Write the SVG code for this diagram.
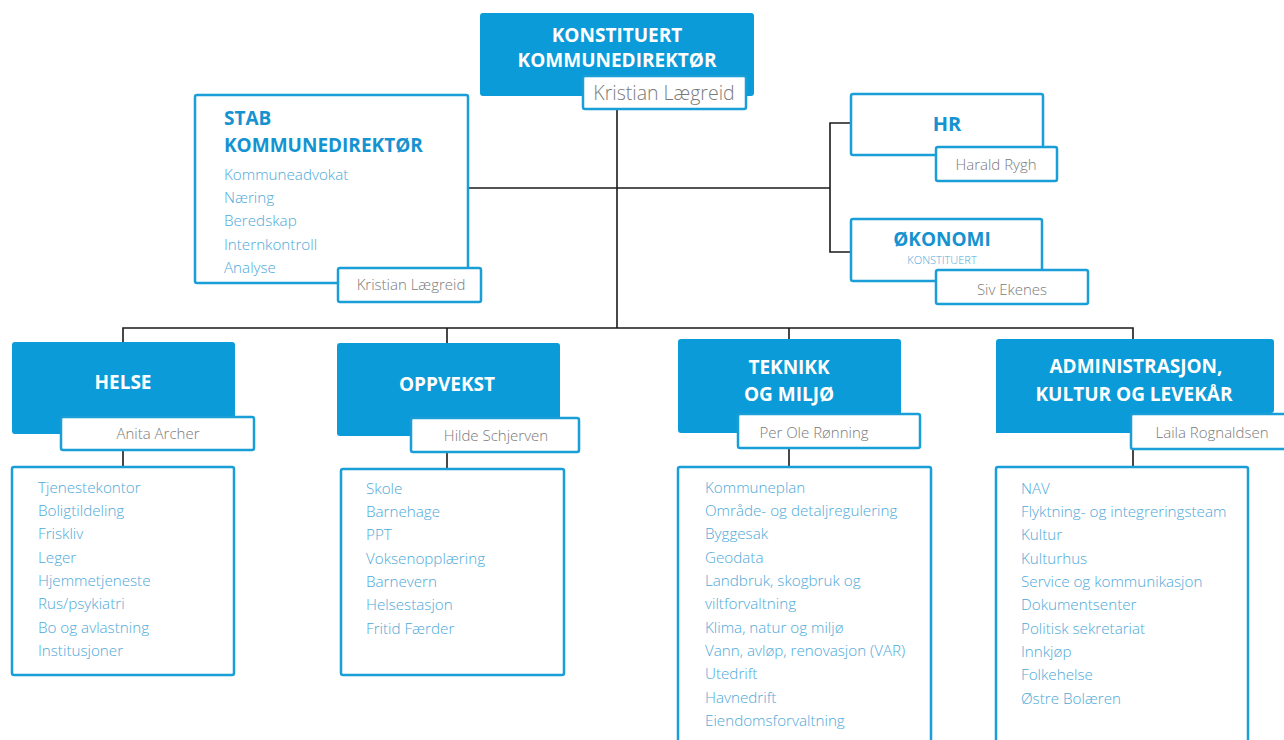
<svg xmlns="http://www.w3.org/2000/svg" width="1284" height="740" viewBox="0 0 1284 740">
<style>
.fill{fill:#0a9bd8;stroke:#0a9bd8;stroke-width:2}
.box{fill:#fff;stroke:#1a9ed8;stroke-width:2.5}
.name{fill:#fff;stroke:#1a9ed8;stroke-width:2.5}
.hw{font-family:"Open Sans",sans-serif;font-weight:700;font-size:19px;fill:#fff;text-anchor:middle}
.hb{font-family:"Open Sans",sans-serif;font-weight:700;font-size:19px;fill:#1592d0}
.nm{font-family:"Open Sans",sans-serif;font-weight:300;font-size:15px;fill:#7a7a7a;text-anchor:middle}
.it{font-family:"Open Sans",sans-serif;font-weight:300;font-size:15.2px;fill:#4ea9d8}
.conn{stroke:#1a1a1a;stroke-width:1.6;fill:none}
</style>
<rect width="1284" height="740" fill="#fff"/>
<g id="connectors">
<path class="conn" d="M617 109V328"/>
<path class="conn" d="M468 188H830"/>
<path class="conn" d="M850 123H830V252H850"/>
<path class="conn" d="M123 342V328H1133V340"/>
<path class="conn" d="M447 328V344"/>
<path class="conn" d="M789 328V340"/>
<path class="conn" d="M123 450V467"/>
<path class="conn" d="M447 452V469"/>
<path class="conn" d="M789 448V467"/>
<path class="conn" d="M1133 449V467"/>
</g>
<g id="kommunedirektor">
<rect class="fill" x="481" y="14" width="272" height="81" rx="2"/>
<text class="hw" x="617" y="42">KONSTITUERT</text>
<text class="hw" x="617" y="67">KOMMUNEDIREKTØR</text>
<rect class="name" x="583" y="76" width="163" height="33" rx="2"/>
<text class="nm" x="664" y="100" style="font-size:19.5px">Kristian Lægreid</text>
</g>
<g id="stab">
<rect class="box" x="195" y="95" width="273" height="188" rx="2"/>
<text class="hb" x="224" y="125">STAB</text>
<text class="hb" x="224" y="152">KOMMUNEDIREKTØR</text>
<text class="it" x="224" y="180">Kommuneadvokat</text>
<text class="it" x="224" y="203">Næring</text>
<text class="it" x="224" y="226">Beredskap</text>
<text class="it" x="224" y="250">Internkontroll</text>
<text class="it" x="224" y="273">Analyse</text>
<rect class="name" x="338" y="268" width="143" height="34" rx="2"/>
<text class="nm" x="411" y="290">Kristian Lægreid</text>
</g>
<g id="hr">
<rect class="box" x="851" y="94" width="192" height="61" rx="2"/>
<text class="hb" x="947" y="131" style="text-anchor:middle;font-size:20px">HR</text>
<rect class="name" x="936" y="147" width="121" height="34" rx="2"/>
<text class="nm" x="996" y="170">Harald Rygh</text>
</g>
<g id="okonomi">
<rect class="box" x="851" y="219" width="191" height="62" rx="2"/>
<text class="hb" x="942" y="246" style="text-anchor:middle">ØKONOMI</text>
<text x="942" y="264" style="font-family:'Open Sans',sans-serif;font-weight:300;font-size:11px;fill:#4ea9d8;text-anchor:middle">KONSTITUERT</text>
<rect class="name" x="936" y="270" width="152" height="34" rx="2"/>
<text class="nm" x="1012" y="295">Siv Ekenes</text>
</g>
<g id="helse">
<rect class="fill" x="13" y="343" width="221" height="90" rx="2"/>
<text class="hw" x="123" y="389">HELSE</text>
<rect class="name" x="61" y="417" width="193" height="33" rx="2"/>
<text class="nm" x="158" y="439">Anita Archer</text>
<rect class="box" x="12" y="467" width="222" height="208" rx="2"/>
<text class="it" x="38" y="493">Tjenestekontor</text>
<text class="it" x="38" y="516">Boligtildeling</text>
<text class="it" x="38" y="539">Friskliv</text>
<text class="it" x="38" y="563">Leger</text>
<text class="it" x="38" y="586">Hjemmetjeneste</text>
<text class="it" x="38" y="609">Rus/psykiatri</text>
<text class="it" x="38" y="633">Bo og avlastning</text>
<text class="it" x="38" y="656">Institusjoner</text>
</g>
<g id="oppvekst">
<rect class="fill" x="338" y="344" width="221" height="91" rx="2"/>
<text class="hw" x="447" y="391">OPPVEKST</text>
<rect class="name" x="411" y="418" width="168" height="34" rx="2"/>
<text class="nm" x="496" y="441">Hilde Schjerven</text>
<rect class="box" x="341" y="469" width="223" height="206" rx="2"/>
<text class="it" x="366" y="494">Skole</text>
<text class="it" x="366" y="517">Barnehage</text>
<text class="it" x="366" y="540">PPT</text>
<text class="it" x="366" y="564">Voksenopplæring</text>
<text class="it" x="366" y="587">Barnevern</text>
<text class="it" x="366" y="610">Helsestasjon</text>
<text class="it" x="366" y="634">Fritid Færder</text>
</g>
<g id="teknikk">
<rect class="fill" x="679" y="340" width="221" height="92" rx="2"/>
<text class="hw" x="789" y="374">TEKNIKK</text>
<text class="hw" x="789" y="401">OG MILJØ</text>
<rect class="name" x="738" y="414" width="182" height="34" rx="2"/>
<text class="nm" x="814" y="438">Per Ole Rønning</text>
<rect class="box" x="678" y="467" width="253" height="280" rx="2"/>
<text class="it" x="705" y="493">Kommuneplan</text>
<text class="it" x="705" y="516">Område- og detaljregulering</text>
<text class="it" x="705" y="539">Byggesak</text>
<text class="it" x="705" y="563">Geodata</text>
<text class="it" x="705" y="586">Landbruk, skogbruk og</text>
<text class="it" x="705" y="609">viltforvaltning</text>
<text class="it" x="705" y="633">Klima, natur og miljø</text>
<text class="it" x="705" y="656">Vann, avløp, renovasjon (VAR)</text>
<text class="it" x="705" y="679">Utedrift</text>
<text class="it" x="705" y="703">Havnedrift</text>
<text class="it" x="705" y="726">Eiendomsforvaltning</text>
</g>
<g id="administrasjon">
<rect class="fill" x="997" y="340" width="276" height="72" rx="2"/>
<rect class="fill" x="997" y="400" width="135" height="32"/>
<text class="hw" x="1136" y="373">ADMINISTRASJON,</text>
<text class="hw" x="1134" y="401">KULTUR OG LEVEKÅR</text>
<rect class="name" x="1131" y="414" width="165" height="35" rx="2"/>
<text class="nm" x="1212" y="438">Laila Rognaldsen</text>
<rect class="box" x="996" y="467" width="252" height="280" rx="2"/>
<text class="it" x="1021" y="494">NAV</text>
<text class="it" x="1021" y="517">Flyktning- og integreringsteam</text>
<text class="it" x="1021" y="540">Kultur</text>
<text class="it" x="1021" y="564">Kulturhus</text>
<text class="it" x="1021" y="587">Service og kommunikasjon</text>
<text class="it" x="1021" y="610">Dokumentsenter</text>
<text class="it" x="1021" y="634">Politisk sekretariat</text>
<text class="it" x="1021" y="657">Innkjøp</text>
<text class="it" x="1021" y="680">Folkehelse</text>
<text class="it" x="1021" y="704">Østre Bolæren</text>
</g>
</svg>
